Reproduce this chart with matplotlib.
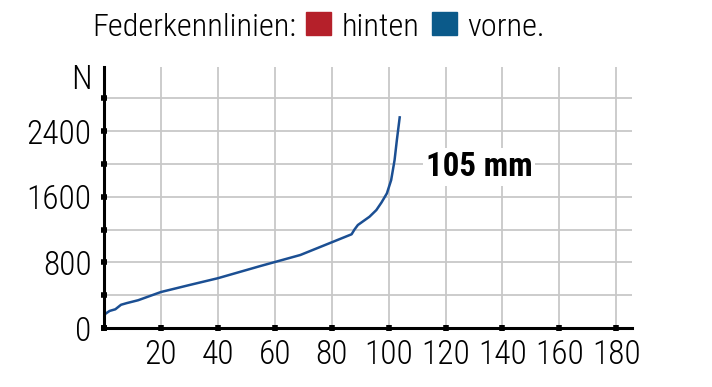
import matplotlib
matplotlib.use("Agg")
import matplotlib.pyplot as plt
from matplotlib.patches import Rectangle
from matplotlib.ticker import FuncFormatter

plt.rcParams['font.family'] = ['Roboto Condensed', 'DejaVu Sans']
plt.rcParams['font.weight'] = 300

# Federweg (mm) und Kraft (N), vorne
weg_mm = [0, 0.5, 2, 4, 6, 8, 12, 20, 30, 40, 55, 69, 80, 87, 88, 89.2,
          93.3, 95.7, 97.5, 99.4, 100.9, 102.1, 102.9, 103.9]
kraft_n = [140, 175, 210, 230, 285, 305, 340, 440, 525, 608, 757, 891, 1045,
           1143, 1200, 1256, 1357, 1438, 1530, 1641, 1803, 2046, 2289, 2566]

x_ticks = [0, 20, 40, 60, 80, 100, 120, 140, 160, 180]
y_ticks = [0, 400, 800, 1200, 1600, 2000, 2400, 2800]
y_labels = [0, 800, 1600, 2400]

rot = '#b5202a'
blau = '#0b5a8a'
linie = '#1b4f93'

fig = plt.figure(figsize=(7.12, 3.87), dpi=100)
ax = fig.add_axes([0.146, 0.152, 0.7416, 0.675])

ax.plot(weg_mm, kraft_n, color=linie, lw=1.8, zorder=3)

ax.set_xlim(0, 185.5)
ax.set_ylim(0, 3180)
ax.set_xticks(x_ticks)
ax.set_yticks(y_ticks)
ax.xaxis.set_major_formatter(FuncFormatter(lambda v, p: '' if v == 0 else f'{v:.0f}'))
ax.yaxis.set_major_formatter(FuncFormatter(lambda v, p: f'{v:.0f}' if v in y_labels else ''))

ax.grid(True, color='#c8c8c8', lw=1.3, zorder=0)
ax.set_axisbelow(True)
for s in ['top', 'right']:
    ax.spines[s].set_visible(False)
for s in ['left', 'bottom']:
    ax.spines[s].set_linewidth(2.2)
    ax.spines[s].set_color('black')
    ax.spines[s].set_zorder(4)
ax.tick_params(direction='inout', length=4, width=4, labelsize=24)
ax.tick_params(axis='y', pad=7)
ax.tick_params(axis='x', pad=6)

ax.text(-4.2, 3019, 'N', fontsize=24, ha='right', va='center')

ax.text(113, 1961, '105 mm', fontsize=23.8, fontweight='bold', ha='left',
        va='center', zorder=5,
        bbox=dict(facecolor='white', edgecolor='none', pad=2))

# Titelzeile mit Farbfeldern
fig.canvas.draw()
r = fig.canvas.get_renderer()
W, H = fig.bbox.width, fig.bbox.height
base = 1 - 35.7 / H
t1 = fig.text(92.7 / W, base, 'Federkennlinien:', fontsize=23.3, va='baseline')
x = t1.get_window_extent(r).x1 + 9
for farbe, name in [(rot, 'hinten'), (blau, 'vorne.')]:
    fig.patches.append(Rectangle((x / W, 1 - 35 / H), 25 / W, 23 / H,
                                 transform=fig.transFigure, color=farbe))
    x += 25 + 11
    t = fig.text(x / W, base, name, fontsize=23.3, va='baseline')
    x = t.get_window_extent(r).x1 + 12

fig.savefig('out.png', dpi=100)
